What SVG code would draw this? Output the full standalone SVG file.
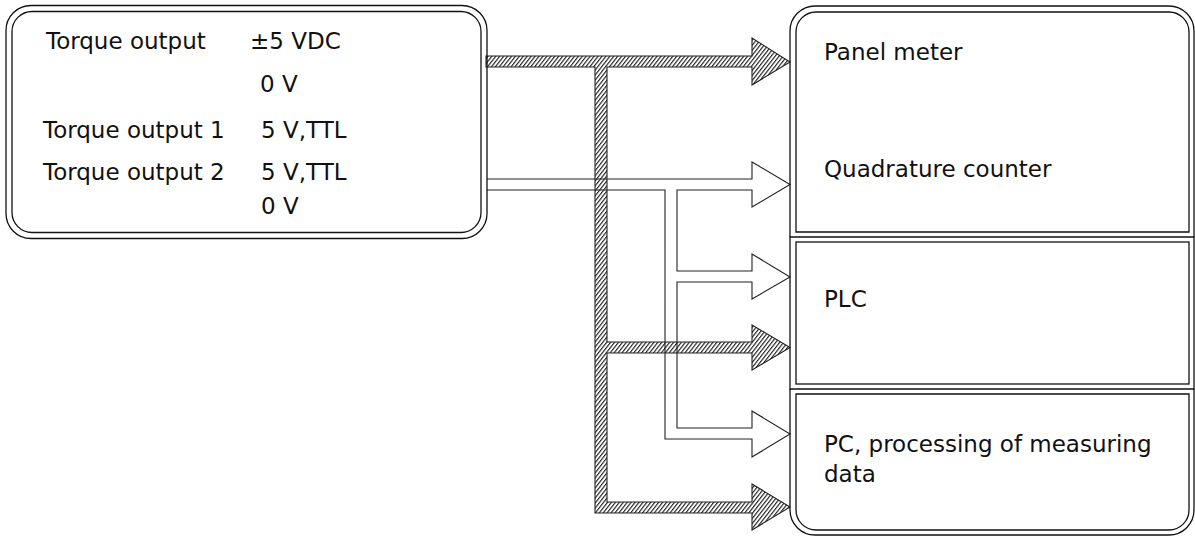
<svg xmlns="http://www.w3.org/2000/svg" width="1195" height="537" viewBox="0 0 1195 537">
<defs>
<pattern id="hatch" patternUnits="userSpaceOnUse" width="3.1" height="10" patternTransform="rotate(38)">
<rect width="3.1" height="10" fill="#fff"/>
<line x1="0.6" y1="0" x2="0.6" y2="10" stroke="#000" stroke-width="1"/>
</pattern>
</defs>
<style>
.box{fill:none;stroke:#111;stroke-width:1.3}
.hatched{fill:url(#hatch);stroke:#222;stroke-width:1.1}
.hollow{fill:none;stroke:#222;stroke-width:1.1}
text{font-family:"DejaVu Sans","Liberation Sans",sans-serif;font-size:23px;fill:#111}
</style>
<rect width="1195" height="537" fill="#fff"/>
<g id="connectors">
<path class="hatched" d="M486,56 H752 V38 L790,62 L752,85 V67 H607 V342 H752 V325 L790,347.5 L752,370 V353 H607 V502 H752 V484 L790,507 L752,530 V513 H595 V67 H486 Z"/>
<path class="hollow" d="M487,179 H752 V162 L790,184.5 L752,207 V190 H677 V271 H752 V254 L790,277 L752,299 V282 H677 V428 H752 V411 L790,434 L752,457 V439 H665 V190 H487"/>
</g>
<g id="source">
<rect class="box" x="6" y="5.5" width="481" height="233" rx="25"/>
<rect class="box" x="12" y="11.5" width="469" height="221" rx="20"/>
<text x="46" y="49">Torque output</text>
<text x="250" y="49">±5 VDC</text>
<text x="260" y="92">0 V</text>
<text x="43" y="138">Torque output 1</text>
<text x="261" y="138">5 V,TTL</text>
<text x="43" y="180">Torque output 2</text>
<text x="261" y="180">5 V,TTL</text>
<text x="261" y="214">0 V</text>
</g>
<g id="counter">
<path class="box" d="M790,237 V31 A25,25 0 0 1 815,6 H1169 A25,25 0 0 1 1194,31 V237"/>
<path class="box" d="M796,232 V32 A20,20 0 0 1 816,12 H1169 A20,20 0 0 1 1189,32 V232 Z"/>
<text x="824" y="60">Panel meter</text>
<text x="824" y="177">Quadrature counter</text>
</g>
<g id="plc">
<path class="box" d="M790,237 H1194 V389 H790 Z"/>
<rect class="box" x="796" y="242" width="393" height="142"/>
<text x="824" y="307">PLC</text>
</g>
<g id="pc">
<path class="box" d="M790,389 V510 A25,25 0 0 0 815,535 H1169 A25,25 0 0 0 1194,510 V389"/>
<path class="box" d="M796,394 V510 A20,20 0 0 0 816,530 H1169 A20,20 0 0 0 1189,510 V394 Z"/>
<text x="824" y="452">PC, processing of measuring</text>
<text x="824" y="482">data</text>
</g>
</svg>
